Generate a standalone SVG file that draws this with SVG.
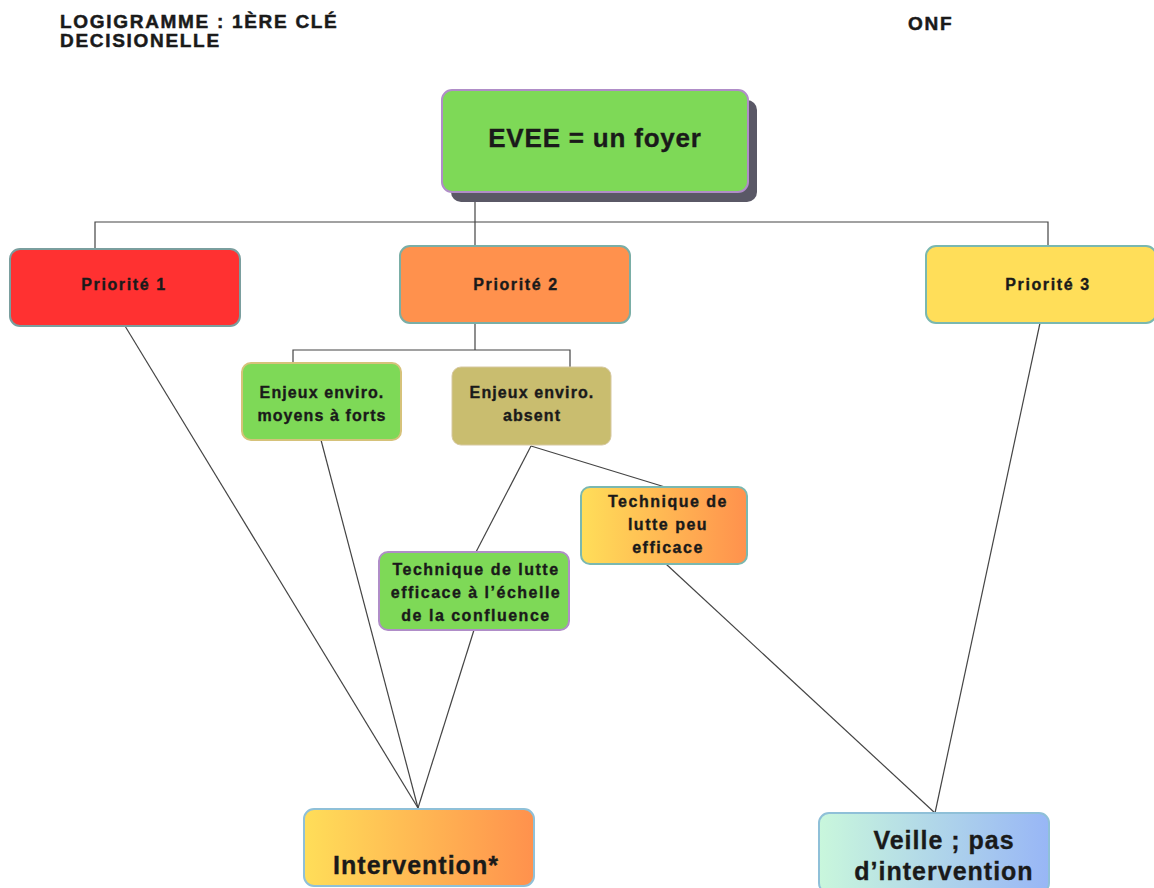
<svg xmlns="http://www.w3.org/2000/svg" width="1154" height="888" viewBox="0 0 1154 888">
<defs>
<linearGradient id="gYO" x1="0" y1="0" x2="1" y2="0"><stop offset="0" stop-color="#ffde59"/><stop offset="1" stop-color="#ff914d"/></linearGradient>
<linearGradient id="gGB" x1="0" y1="0" x2="1" y2="0"><stop offset="0" stop-color="#c9f7dc"/><stop offset="1" stop-color="#98b6f6"/></linearGradient>
</defs>
<style>
.t{font-family:"Liberation Sans",Arial,sans-serif;font-weight:bold;fill:#1a1a1a;stroke:#1a1a1a;stroke-width:0.35;text-anchor:middle}
.p{font-size:16px;letter-spacing:1.6px}
.s{font-size:16px;letter-spacing:1.1px}
.m{font-size:16px;letter-spacing:1.5px}
.l{font-size:25px;letter-spacing:1px}
.h{font-family:"Liberation Sans",Arial,sans-serif;font-weight:bold;font-size:19px;letter-spacing:1.7px;fill:#1a1a1a;stroke:#1a1a1a;stroke-width:0.5}
.c{fill:none;stroke:#444;stroke-width:1.2}
</style>
<rect width="1154" height="888" fill="#ffffff"/>
<text class="h" x="60" y="28">LOGIGRAMME : 1ÈRE CLÉ</text>
<text class="h" x="60" y="47">DECISIONELLE</text>
<text class="h" x="908" y="30">ONF</text>

<g id="connectors">
<polyline class="c" points="475,192 475,222"/>
<polyline class="c" points="95,248 95,222 1048,222 1048,247"/>
<polyline class="c" points="475,222 475,247"/>
<polyline class="c" points="475,323 475,350"/>
<polyline class="c" points="293,364 293,350 570,350 570,367"/>
<line class="c" x1="125" y1="326" x2="418" y2="808"/>
<line class="c" x1="321" y1="440" x2="418" y2="808"/>
<line class="c" x1="474" y1="630" x2="418" y2="808"/>
<line class="c" x1="531" y1="446" x2="476" y2="552"/>
<line class="c" x1="531" y1="446" x2="665" y2="487"/>
<line class="c" x1="666" y1="564" x2="935" y2="813"/>
<line class="c" x1="1040" y1="323" x2="935" y2="813"/>
</g>

<g id="evee">
<rect x="451" y="100" width="306" height="102" rx="10" fill="#5a5866"/>
<rect x="442" y="90" width="306" height="102" rx="10" fill="#7ed957" stroke="#b08dc8" stroke-width="2"/>
<text class="t" x="595" y="147" font-size="26" letter-spacing="0.8">EVEE = un foyer</text>
</g>

<g id="p1">
<rect x="10" y="249" width="230" height="77" rx="10" fill="#ff3131" stroke="#7a9e9e" stroke-width="2"/>
<text class="t p" x="124" y="290">Priorité 1</text>
</g>
<g id="p2">
<rect x="400" y="246" width="230" height="77" rx="10" fill="#ff914d" stroke="#7aaea6" stroke-width="2"/>
<text class="t p" x="516" y="290">Priorité 2</text>
</g>
<g id="p3">
<rect x="926" y="246" width="230" height="77" rx="10" fill="#ffde59" stroke="#7ab8b0" stroke-width="2"/>
<text class="t p" x="1048" y="290">Priorité 3</text>
</g>

<g id="enjeux-moyens">
<rect x="242" y="363" width="159" height="77" rx="9" fill="#7ed957" stroke="#d6c27a" stroke-width="2"/>
<text class="t s" x="322" y="398">Enjeux enviro.</text>
<text class="t s" x="322" y="421">moyens à forts</text>
</g>
<g id="enjeux-absent">
<rect x="452" y="367" width="159" height="78" rx="9" fill="#c9bd6f" stroke="#d6c8a0" stroke-width="1"/>
<text class="t s" x="532" y="398">Enjeux enviro.</text>
<text class="t s" x="532" y="421">absent</text>
</g>

<g id="tech-peu">
<rect x="581" y="487" width="166" height="77" rx="9" fill="url(#gYO)" stroke="#7ab8b0" stroke-width="2"/>
<text class="t m" x="668" y="507">Technique de</text>
<text class="t m" x="668" y="530">lutte peu</text>
<text class="t m" x="668" y="553">efficace</text>
</g>
<g id="tech-efficace">
<rect x="379" y="552" width="190" height="78" rx="9" fill="#7ed957" stroke="#b08dc8" stroke-width="2"/>
<text class="t m" x="476" y="575">Technique de lutte</text>
<text class="t m" x="476" y="598">efficace à l’échelle</text>
<text class="t m" x="476" y="621">de la confluence</text>
</g>

<g id="intervention">
<rect x="304" y="809" width="230" height="77" rx="10" fill="url(#gYO)" stroke="#8fc0d8" stroke-width="2"/>
<text class="t l" x="416" y="874">Intervention*</text>
</g>
<g id="veille">
<rect x="819" y="813" width="230" height="80" rx="10" fill="url(#gGB)" stroke="#8fc0d8" stroke-width="2"/>
<text class="t l" x="944" y="849">Veille ; pas</text>
<text class="t l" x="944" y="880">d’intervention</text>
</g>
</svg>
